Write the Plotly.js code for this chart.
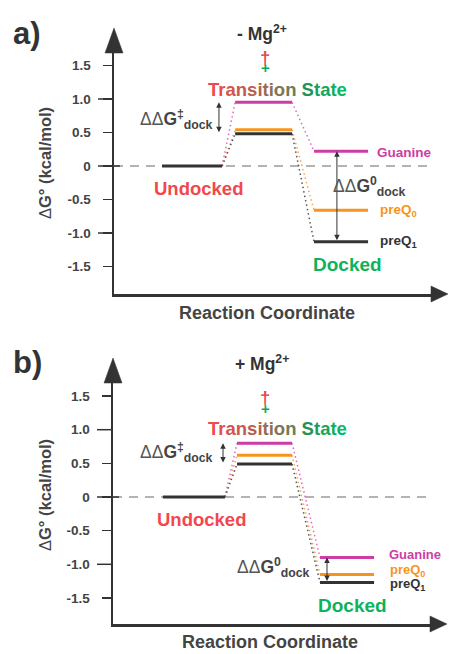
<!DOCTYPE html>
<html><head><meta charset="utf-8">
<script src="https://cdn.plot.ly/plotly-3.0.1.min.js"></script>
<style>html,body{margin:0;padding:0;background:#fff}</style>
</head><body><div id="chart" style="width:452px;height:654px"></div>
<script>
// ---------- data ----------
const tickVals = [-1.5, -1, -0.5, 0, 0.5, 1, 1.5];
const tickText = ['-1.5', '-1.0', '-0.5', '0', '0.5', '1.0', '1.5'];
const seriesNames = ['Guanine', 'preQ<sub>0</sub>', 'preQ<sub>1</sub>'];
const undocked = [0, 0, 0];
// panel a: - Mg2+
const tsNoMg = [0.95, 0.54, 0.48];
const dockedNoMg = [0.22, -0.66, -1.13];
// panel b: + Mg2+
const tsMg = [0.80, 0.62, 0.49];
const dockedMg = [-0.90, -1.15, -1.27];

// ---------- layout helpers ----------
const W = 452, H = 654;
const px = x => x / W, py = y => 1 - y / H;
const C = {g: '#cc3da6', o: '#f7941d', k: '#333333', red: '#f2474d', green: '#0db25a', text: '#444444'};
const lineCols = [C.g, C.o, C.k];
const dotCols = ['#e066c4', '#f9a352', '#555555'];
const labCols = [C.g, C.o, '#333333'];

// stage x-extents (reaction coordinate units, axis range 0..10)
const stagesA = [[1.51, 3.40], [3.81, 5.60], [6.29, 7.99]];
const stagesB = [[1.57, 3.52], [3.90, 5.63], [6.51, 8.21]];

const P = [
  {xa: 'x', ya: 'y', ts: tsNoMg, dk: dockedNoMg, st: stagesA, axX: 114, endX: 432, top: 52, bot: 294, zero: 166,
   range: [-1.910, 1.701], title: '- Mg', titleY: 33, letter: 'a)', letterY: 33,
   dag: 60, trans: 89, und: [198, 188], dock: [347, 264], rc: [267, 313], yt: 163,
   arr1x: 3.30, arr2x: 7.01, dd1: [215, 119], dd2: [408, 186], labShift: [7, 10, 10], labY: [-1, 0, 0], labSize: 13.5},
  {xa: 'x2', ya: 'y2', ts: tsMg, dk: dockedMg, st: stagesB, axX: 113, endX: 431, top: 382, bot: 624, zero: 497,
   range: [-1.887, 1.709], title: '+ Mg', titleY: 363, letter: 'b)', letterY: 362,
   dag: 400, trans: 428, und: [201, 519], dock: [352, 605], rc: [270, 642], yt: 495,
   arr1x: 3.46, arr2x: 6.73, dd1: [215, 452], dd2: [312, 567], labShift: [13, 14, 14], labY: [3, 4, -2], labSize: 13}
];

const traces = [], shapes = [], annotations = [];
const font = 'Arial, "Liberation Sans", sans-serif';

function mix(a, b, t) {
  return '#' + a.map((v, i) => Math.round(v + (b[i] - v) * t).toString(16).padStart(2, '0')).join('');
}
function gradText(s, c0, c1) {
  return s.split('').map((ch, i) => `<span style="color:${mix(c0, c1, s.length > 1 ? i / (s.length - 1) : 0)}">${ch}</span>`).join('');
}

P.forEach(p => {
  const und = p.st[0], ts = p.st[1], dk = p.st[2];
  // dotted connectors
  for (let i = 0; i < 3; i++) {
    traces.push({x: [und[1], ts[0], null, ts[1], dk[0]], y: [undocked[i], p.ts[i], null, p.ts[i], p.dk[i]],
      xaxis: p.xa, yaxis: p.ya, mode: 'lines', line: {color: dotCols[i], width: 1.5, dash: '1.5px,3px'}, hoverinfo: 'skip'});
  }
  // undocked level
  traces.push({x: [und[0], und[1]], y: [undocked[2], undocked[2]], xaxis: p.xa, yaxis: p.ya, mode: 'lines',
    line: {color: C.k, width: 3}, hoverinfo: 'skip'});
  // TS and docked levels
  for (let i = 0; i < 3; i++) {
    traces.push({x: [ts[0], ts[1], null, dk[0], dk[1]], y: [p.ts[i], p.ts[i], null, p.dk[i], p.dk[i]],
      xaxis: p.xa, yaxis: p.ya, mode: 'lines', line: {color: lineCols[i], width: 3}, hoverinfo: 'skip'});
    annotations.push({xref: p.xa, yref: p.ya, x: dk[1], y: p.dk[i], xanchor: 'left', yanchor: 'middle',
      xshift: p.labShift[i], yshift: p.labY[i], showarrow: false,
      text: '<b>' + seriesNames[i] + '</b>', font: {family: font, size: p.labSize, color: labCols[i]}});
  }
  // zero dashed line
  shapes.push({type: 'line', xref: p.xa, yref: p.ya, x0: 0, x1: 9.93, y0: 0, y1: 0, layer: 'below',
    line: {color: '#9a9a9a', width: 1.6, dash: '9px,7px'}});
  // long ticks at -1, 0, 1
  const yOf = v => p.zero - v * (p.bot - p.top) / (p.range[1] - p.range[0]);
  [-1, 0, 1].forEach(v => {
    shapes.push({type: 'line', xref: 'paper', yref: 'paper', x0: px(p.axX - 16), x1: px(p.axX + (v === 0 ? 6 : 0)),
      y0: py(yOf(v)), y1: py(yOf(v)), line: {color: C.k, width: 1.5}});
  });
  // arrowheads
  shapes.push({type: 'path', xref: 'paper', yref: 'paper', fillcolor: C.k, line: {color: C.k, width: 0.5},
    path: `M ${px(p.axX)} ${py(p.top - 24)} L ${px(p.axX - 9)} ${py(p.top + 1)} L ${px(p.axX + 9)} ${py(p.top + 1)} Z`});
  shapes.push({type: 'path', xref: 'paper', yref: 'paper', fillcolor: C.k, line: {color: C.k, width: 0.5},
    path: `M ${px(p.endX + 16)} ${py(p.bot)} L ${px(p.endX - 1)} ${py(p.bot - 8)} L ${px(p.endX - 1)} ${py(p.bot + 8)} Z`});
  // double arrows
  annotations.push({xref: p.xa, yref: p.ya, axref: p.xa, ayref: p.ya, x: p.arr1x, y: p.ts[0], ax: p.arr1x, ay: p.ts[2],
    text: '', showarrow: true, arrowside: 'end+start', arrowhead: 2, arrowsize: 1.1, arrowwidth: 1, arrowcolor: C.k, standoff: 0, startstandoff: 0});
  annotations.push({xref: p.xa, yref: p.ya, axref: p.xa, ayref: p.ya, x: p.arr2x, y: p.dk[0], ax: p.arr2x, ay: p.dk[2],
    text: '', showarrow: true, arrowside: 'end+start', arrowhead: 2, arrowsize: 1.1, arrowwidth: 1, arrowcolor: C.k, standoff: 0, startstandoff: 0});
  // text labels
  const A = (x, y, text, size, color, extra) => annotations.push(Object.assign({xref: 'paper', yref: 'paper', x: px(x), y: py(y),
    text, showarrow: false, font: {family: font, size, color}, xanchor: 'center', yanchor: 'middle'}, extra || {}));
  A(11, p.letterY, '<b>' + p.letter + '</b>', 31, '#333333', {xanchor: 'left'});
  A(262, p.titleY, '<b>' + p.title + '<sup>2+</sup></b>', 17.5, '#333333');
  A(265, p.dag - 3, '<b>†</b>', 18.5, '#e8474a');
  A(265, p.dag + 8, '<b>+</b>', 15, '#12a858');
  A(277, p.trans, '<b>' + gradText('Transition', [242, 71, 77], [112, 124, 82]) + ' ' + gradText('State', [36, 146, 88], [8, 186, 98]) + '</b>', 18.5, C.red);
  A(p.und[0], p.und[1], '<b>Undocked</b>', 18.5, C.red);
  A(p.dock[0], p.dock[1], '<b>Docked</b>', 19, C.green);
  A(p.rc[0], p.rc[1], '<b>Reaction Coordinate</b>', 18, C.text);
  A(45, p.yt, 'Δ<b>G° (kcal/mol)</b>', 16.5, C.text, {textangle: -90});
  A(p.dd1[0], p.dd1[1], '<span style="color:#555">ΔΔ</span><b>G<sup>‡</sup><sub>dock</sub></b>', 17.5, C.text, {xanchor: 'right'});
  A(p.dd2[0], p.dd2[1], '<span style="color:#555">ΔΔ</span><b>G<sup>0</sup><sub>dock</sub></b>', 17.5, C.text, {xanchor: 'right'});
});

function xAxis(p) {
  return {domain: [px(p.axX), px(p.endX)], range: [0, 10], showline: true, linecolor: C.k, linewidth: 2.5,
    showticklabels: false, ticks: '', showgrid: false, zeroline: false, fixedrange: true, anchor: p.ya};
}
function yAxis(p) {
  return {domain: [py(p.bot), py(p.top)], range: p.range, showline: true, linecolor: C.k, linewidth: 2.5,
    tickmode: 'array', tickvals: tickVals, ticktext: tickText, ticks: 'outside', ticklen: 9, tickwidth: 1.5, tickcolor: C.k,
    ticklabelstandoff: 9, tickfont: {family: font, size: 13.5, color: C.text, weight: 'bold'},
    showgrid: false, zeroline: false, fixedrange: true, anchor: p.xa};
}

const layout = {
  width: W, height: H, margin: {l: 0, r: 0, t: 0, b: 0}, showlegend: false,
  paper_bgcolor: '#ffffff', plot_bgcolor: 'rgba(0,0,0,0)', font: {family: font},
  xaxis: xAxis(P[0]), yaxis: yAxis(P[0]), xaxis2: xAxis(P[1]), yaxis2: yAxis(P[1]),
  shapes, annotations
};
Plotly.newPlot('chart', traces, layout, {displayModeBar: false, staticPlot: true});
</script>
</body></html>
